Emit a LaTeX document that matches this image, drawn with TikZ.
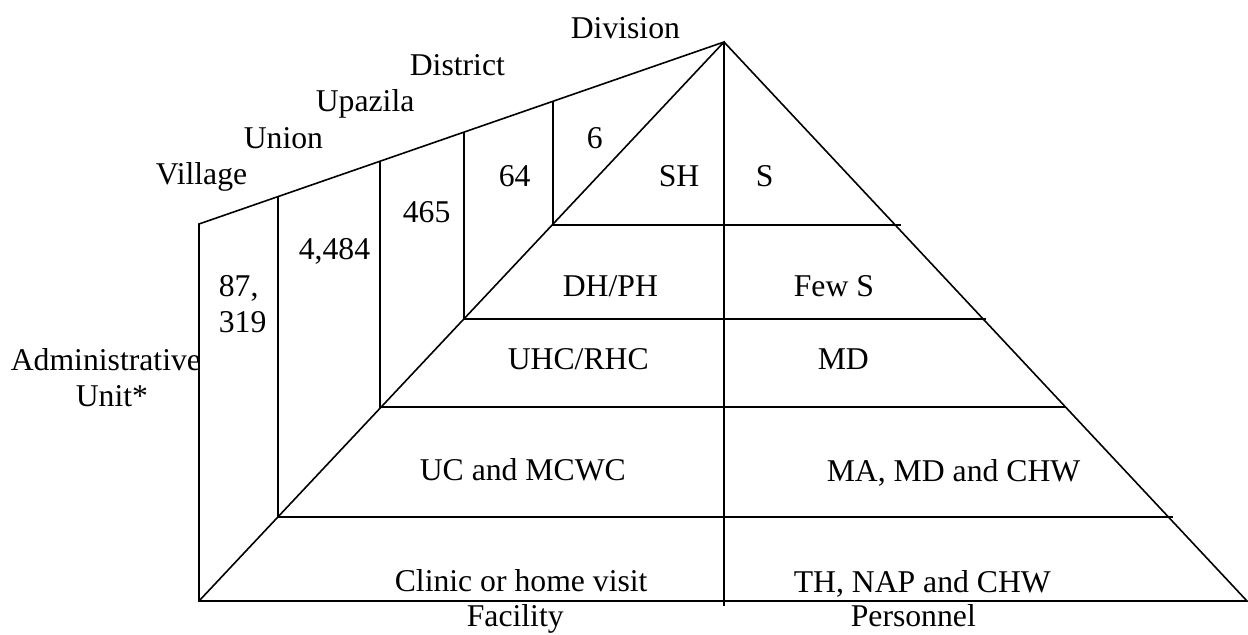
\documentclass[tikz,border=0pt]{standalone}
\usepackage{fontspec}
\setmainfont{Liberation Serif}

\begin{document}
\begin{tikzpicture}[
		x=0.5pt, y=-0.5pt,
		every path/.style={line width=0.8pt},
		txt/.style={font=\fontsize{15.85}{18}\selectfont, inner sep=0pt, anchor=base west},
		]
		\useasboundingbox (0,0) rectangle (1248,635);
		% pyramid corners
		\coordinate (apex) at (724,42);
		\coordinate (bl) at (199,601);
		\coordinate (br) at (1247,601);
		\coordinate (walltop) at (199,224);
		\coordinate (cbot) at (724,606);
		% levels on the left edge, the top edge and the right edge
		\coordinate (L1) at (278,517); \coordinate (T1) at (278,196);   \coordinate (R1) at (1173,517);
		\coordinate (L2) at (380,407); \coordinate (T2) at (380,161);   \coordinate (R2) at (1065,407);
		\coordinate (L3) at (464,319); \coordinate (T3) at (464,132);   \coordinate (R3) at (986,319);
		\coordinate (L4) at (553,225); \coordinate (T4) at (553,101.5); \coordinate (R4) at (901,225);

		\draw (bl) -- (apex) -- (br) -- (bl) -- (walltop) -- (apex) -- (cbot);
		\foreach \i in {1,...,4}
			\draw (T\i) -- (L\i) -- (R\i);

		% administrative units
		\node[txt] (division) at (570,39)  {Division};
		\node[txt] (district) at (409,76)  {District};
		\node[txt] (upazila)  at (315,112) {Upazila};
		\node[txt] (union)    at (243,149) {Union};
		\node[txt] (village)  at (155,185) {Village};
		\node[txt] (ndiv)  at (586,149) {6};
		\node[txt] (ndist) at (498,187) {64};
		\node[txt] (nupa)  at (402,223) {465};
		\node[txt] (nuni)  at (298,260) {4,484};
		\node[txt, align=left] (nvil) at (218,333) {87,\\319};
		\node[txt, align=center] (admin) at (10,407) {Administrative\\\hspace*{6pt}Unit*};

		% facilities
		\node[txt] (sh)     at (658,187) {SH};
		\node[txt] (dhph)   at (562,297) {DH/PH};
		\node[txt] (uhc)    at (507,370) {UHC/RHC};
		\node[txt] (ucmcwc) at (419,481) {UC and MCWC};
		\node[txt] (clinic) at (394,592) {Clinic or home visit};
		\node[txt] (facility) at (466,627) {Facility};

		% personnel
		\node[txt] (s)     at (755,187) {S};
		\node[txt] (fews)  at (793,297) {Few S};
		\node[txt] (md)    at (817,370) {MD};
		\node[txt] (mamd)  at (826,482) {MA, MD and CHW};
		\node[txt] (thnap) at (793,593) {TH, NAP and CHW};
		\node[txt] (personnel) at (850,627) {Personnel};
	\end{tikzpicture}
\end{document}
